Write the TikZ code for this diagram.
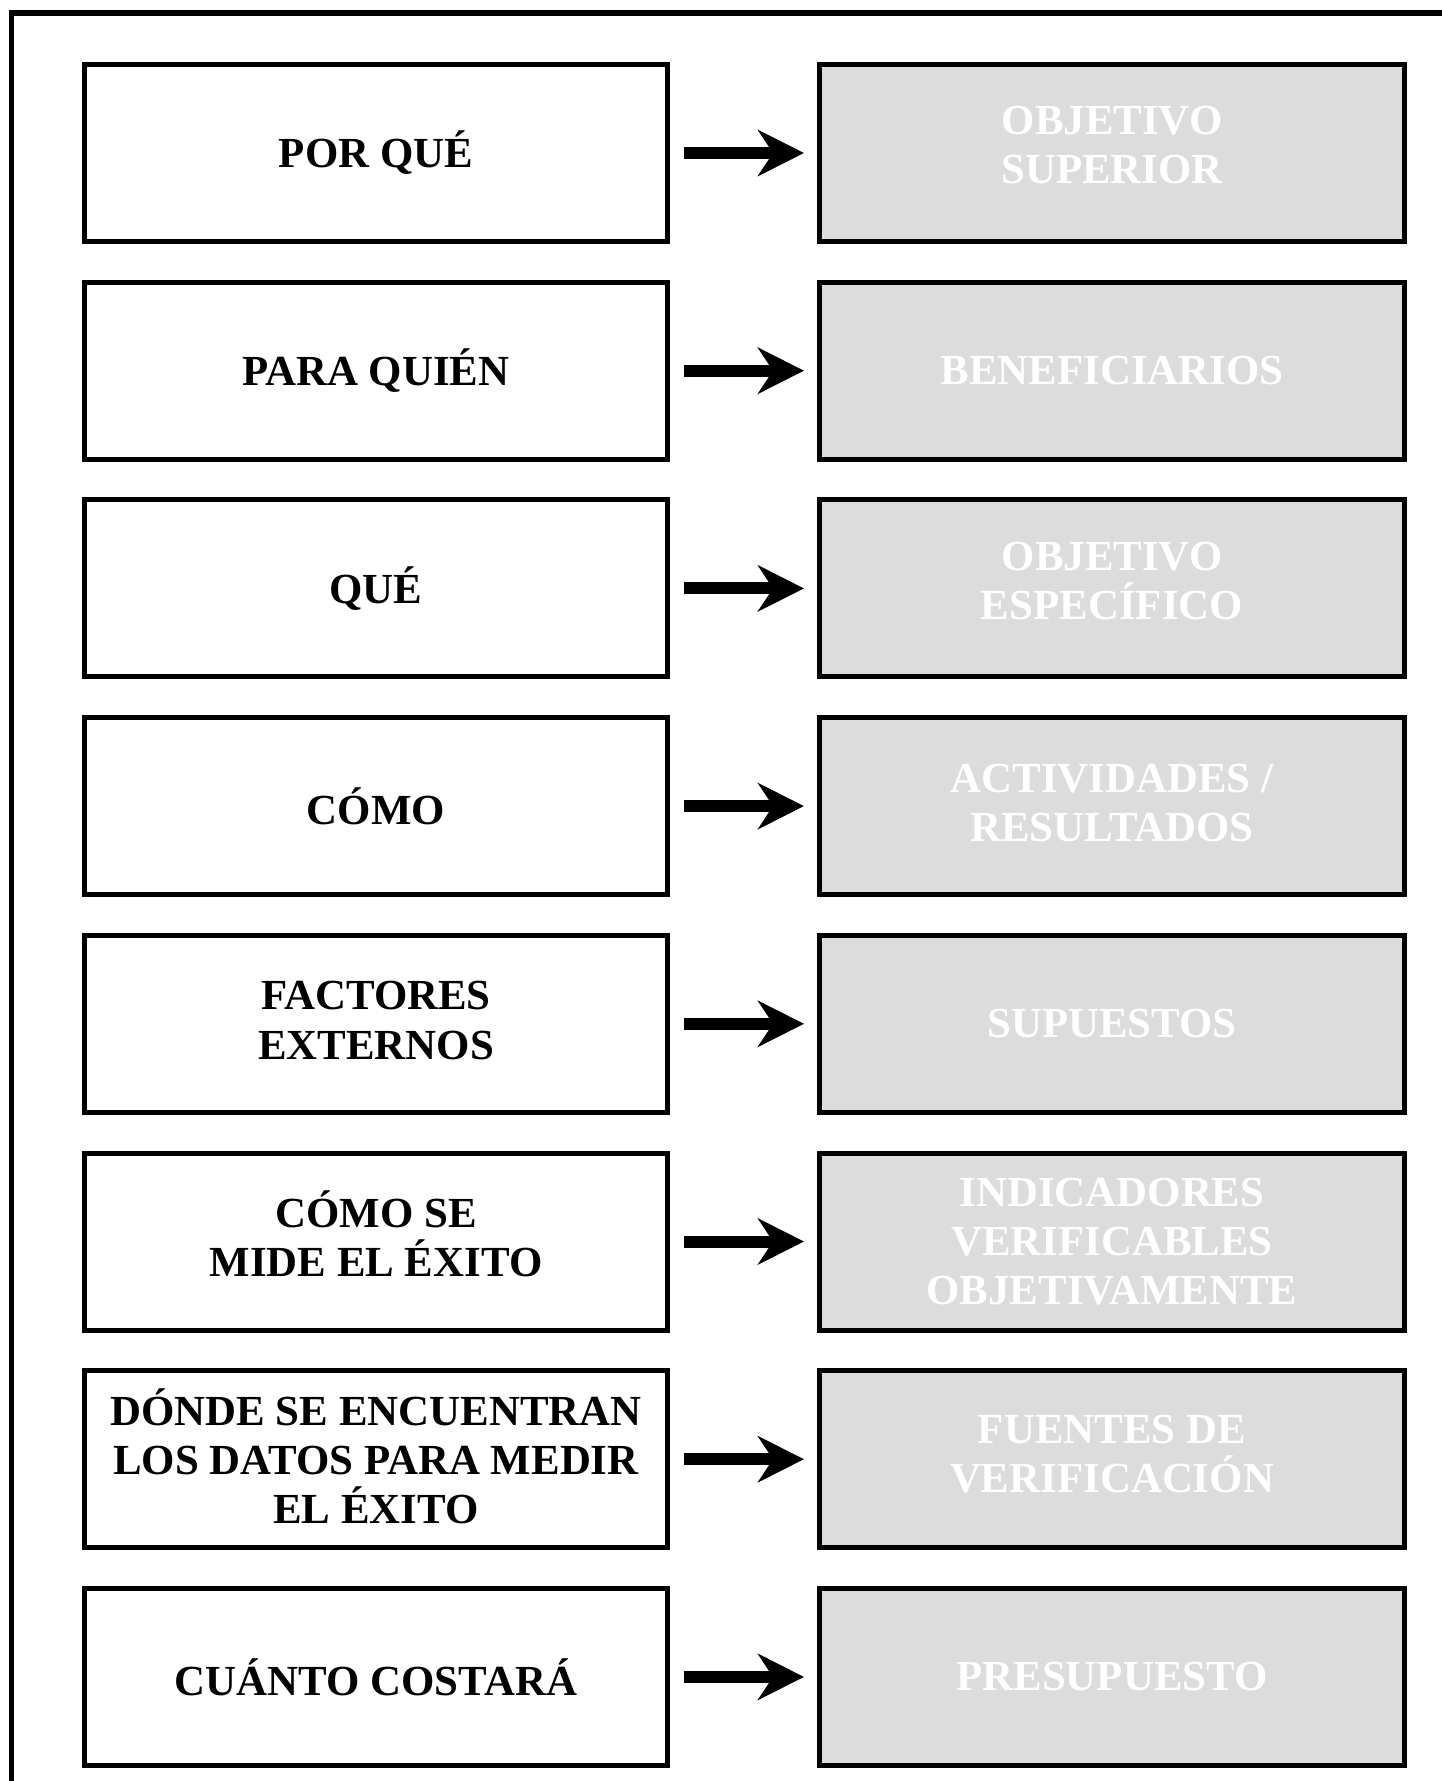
\documentclass[tikz,border=0pt]{standalone}
\usepackage{fontspec}
\setmainfont{Liberation Serif}
\usetikzlibrary{
  arrows.meta,
  positioning
}
\definecolor{BoxGray}{RGB}{220,220,220}
\tikzset{
  pregunta/.style={draw=black,line width=1mm,fill=white,minimum width=11.66cm,minimum height=3.54cm,align=center,font=\bfseries\fontsize{24.4}{27.9}\selectfont},
  respuesta/.style={draw=black,line width=1mm,fill=BoxGray,text=white,minimum width=11.7cm,minimum height=3.54cm,align=center,font=\bfseries\fontsize{24.4}{27.9}\selectfont},
  subir/.style={text depth=#1},
  flecha/.style={-{Stealth[length=9.2mm,width=9.2mm,inset=3mm]},line width=2.4mm,shorten <=2.8mm,shorten >=2.6mm},
  marco/.style={line width=1.1mm}
}

\begin{document}
\begin{tikzpicture}[node distance=7.14mm]
\useasboundingbox (0,0) rectangle (28.84,-35.62);
\draw[marco] (28.84,-0.26) -| (0.23,-35.62);

\node[pregunta] (porque) at (7.52,-3.06) {POR QUÉ};
\node[pregunta, below=of porque] (paraquien) {PARA QUIÉN};
\node[pregunta, below=of paraquien] (que) {QUÉ};
\node[pregunta, below=of que] (como) {CÓMO};
\node[pregunta, subir=1.4mm, below=of como] (factores) {FACTORES\\EXTERNOS};
\node[pregunta, subir=3.2mm, below=of factores] (mide) {CÓMO SE\\MIDE EL ÉXITO};
\node[pregunta, subir=1.2mm, below=of mide] (donde) {DÓNDE SE ENCUENTRAN\\LOS DATOS PARA MEDIR\\EL ÉXITO};
\node[pregunta, below=of donde] (cuanto) {CUÁNTO COSTARÁ};

\node[respuesta, subir=3.2mm, right=29.4mm of porque] (objsup) {OBJETIVO\\SUPERIOR};
\node[respuesta, right=29.4mm of paraquien] (benef) {BENEFICIARIOS};
\node[respuesta, subir=3.2mm, right=29.4mm of que] (objesp) {OBJETIVO\\ESPECÍFICO};
\node[respuesta, subir=1.4mm, right=29.4mm of como] (activ) {ACTIVIDADES /\\RESULTADOS};
\node[respuesta, right=29.4mm of factores] (supuestos) {SUPUESTOS};
\node[respuesta, right=29.4mm of mide] (indic) {INDICADORES\\VERIFICABLES\\OBJETIVAMENTE};
\node[respuesta, subir=2.3mm, right=29.4mm of donde] (fuentes) {FUENTES DE\\VERIFICACIÓN};
\node[respuesta, right=29.4mm of cuanto] (presup) {PRESUPUESTO};

\draw[flecha] (porque) -- (objsup);
\draw[flecha] (paraquien) -- (benef);
\draw[flecha] (que) -- (objesp);
\draw[flecha] (como) -- (activ);
\draw[flecha] (factores) -- (supuestos);
\draw[flecha] (mide) -- (indic);
\draw[flecha] (donde) -- (fuentes);
\draw[flecha] (cuanto) -- (presup);
\end{tikzpicture}
\end{document}
